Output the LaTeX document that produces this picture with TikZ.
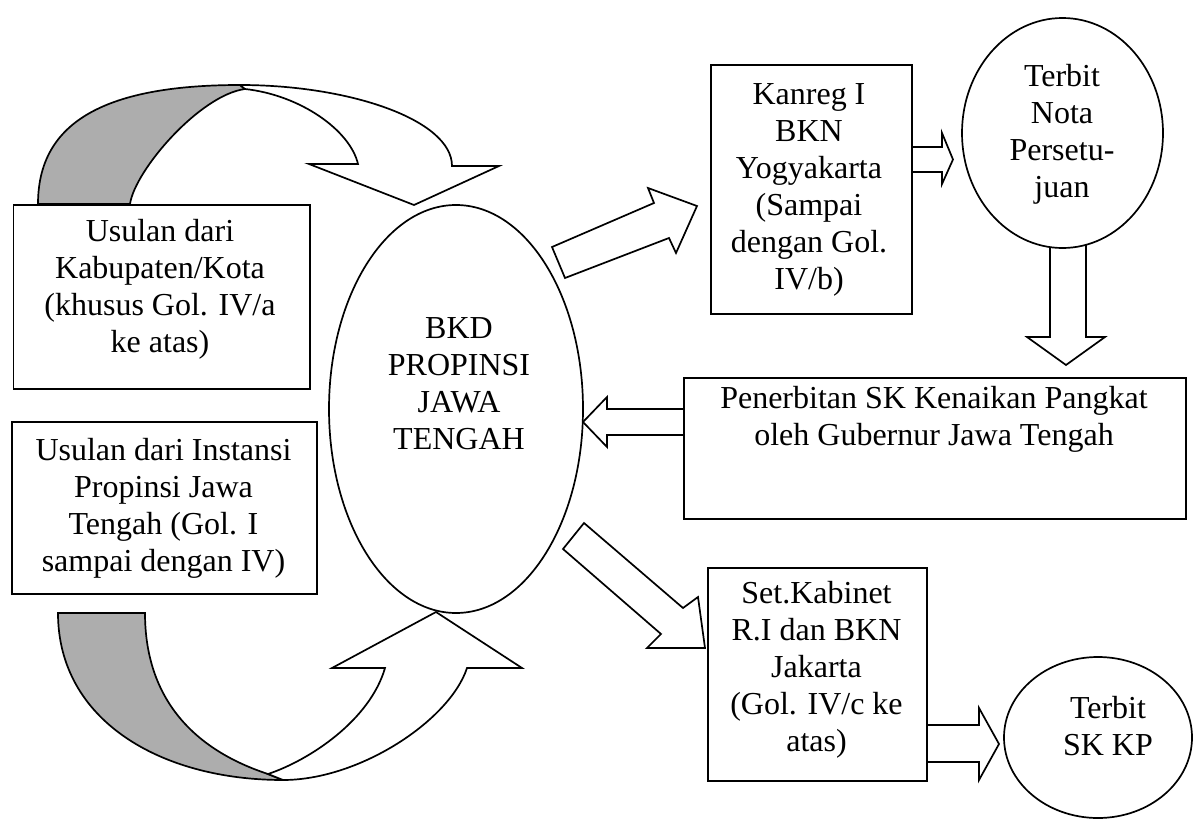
\documentclass[tikz,border=0pt]{standalone}
\usepackage{fontspec}
\setmainfont{Liberation Serif}
\usetikzlibrary{shapes.geometric}
\begin{document}
\begin{tikzpicture}[x=1pt,y=-1pt,
  lw/.style={line width=1.7pt},
  boxnode/.style={draw,lw,fill=white,rectangle,inner sep=0pt,anchor=north west},
  ovalnode/.style={draw,lw,fill=white,ellipse,inner sep=0pt},
  txt/.style={font=\fontsize{32}{37}\selectfont,align=center,inner sep=0pt},
  blockarrow/.style={draw,lw,fill=white,line join=miter},
  shadeband/.style={draw,lw,fill=black!32,line join=miter}
]
\useasboundingbox (0,0) rectangle (1197,819);

% ---- top curved arrow (Kabupaten/Kota -> BKD)
\draw[shadeband] (38,204) .. controls (38,125) and (100,85) .. (240,85)
  -- (245,89) .. controls (200,95) and (135,170) .. (130,204) -- cycle;
\draw[blockarrow] (240,85) .. controls (350,85) and (452,120) .. (452,166)
  -- (499,166) -- (414,205) -- (309,164) -- (358,164)
  .. controls (350,130) and (300,95) .. (245,89) -- cycle;

% ---- bottom curved arrow (Instansi Propinsi -> BKD)
\draw[shadeband] (58,613) -- (145,613) .. controls (145,700) and (195,750) .. (268,774)
  -- (283,780) .. controls (160,780) and (58,720) .. (58,613) -- cycle;
\draw[blockarrow] (268,774) .. controls (310,760) and (370,720) .. (385,668)
  -- (332,668) -- (436,612) -- (522,668) -- (467,668)
  .. controls (450,720) and (360,780) .. (283,780) -- cycle;

% ---- straight block arrows
\draw[blockarrow] (552,247) -- (654,203) -- (648,188) -- (697,206) -- (676,253) -- (669,238) -- (565,278) -- cycle;
\draw[blockarrow] (584,523) -- (683,608) -- (698,597) -- (705,648) -- (647,648) -- (661,634) -- (563,549) -- cycle;
\draw[blockarrow] (905,147) -- (942,147) -- (942,133) -- (953,159.5) -- (942,184) -- (942,172) -- (905,172) -- cycle;
\draw[blockarrow] (1050,240) -- (1050,337) -- (1027,337) -- (1066,365) -- (1105,337) -- (1086,337) -- (1086,240) -- cycle;
\draw[blockarrow] (690,409) -- (607,409) -- (607,397) -- (583,422) -- (607,447) -- (607,435) -- (690,435) -- cycle;
\draw[blockarrow] (920,725) -- (979,725) -- (979,708) -- (999,744) -- (979,780) -- (979,762) -- (920,762) -- cycle;

% ---- shapes
\node[boxnode, minimum width=296.5pt, minimum height=184pt] (kab) at (12.6,204) {};
\node[boxnode, minimum width=305pt, minimum height=172pt] (inst) at (11,421) {};
\node[ovalnode, minimum width=254pt, minimum height=408pt] (bkd) at (456,409) {};
\node[boxnode, minimum width=201pt, minimum height=249pt] (kanreg) at (710,64) {};
\node[ovalnode, minimum width=201pt, minimum height=230pt] (nota) at (1062.5,133) {};
\node[boxnode, minimum width=502pt, minimum height=141pt] (pen) at (683,377) {};
\node[boxnode, minimum width=219pt, minimum height=213pt] (setkab) at (707,567) {};
\node[ovalnode, minimum width=188pt, minimum height=161pt] (skkp) at (1098,737.5) {};

% ---- texts
\node[txt] (kabtxt) at (160,289) {Usulan dari\\Kabupaten/Kota\\(khusus Gol. IV/a\\ke atas)};
\node[txt] (insttxt) at (163.5,508) {Usulan dari Instansi\\Propinsi Jawa\\Tengah (Gol. I\\sampai dengan IV)};
\node[txt] (bkdtxt) at (459,384) {BKD\\PROPINSI\\JAWA\\TENGAH};
\node[txt] (kanregtxt) at (809,189.5) {Kanreg I\\BKN\\Yogyakarta\\(Sampai\\dengan Gol.\\IV/b)};
\node[txt] (notatxt) at (1062,134) {Terbit\\Nota\\Persetu-\\juan};
\node[txt] (pentxt) at (934,419) {Penerbitan SK Kenaikan Pangkat\\oleh Gubernur Jawa Tengah};
\node[txt] (setkabtxt) at (816.5,669.5) {Set.Kabinet\\R.I dan BKN\\Jakarta\\(Gol. IV/c ke\\atas)};
\node[txt] (skkptxt) at (1108,726) {Terbit\\SK KP};
\end{tikzpicture}
\end{document}
